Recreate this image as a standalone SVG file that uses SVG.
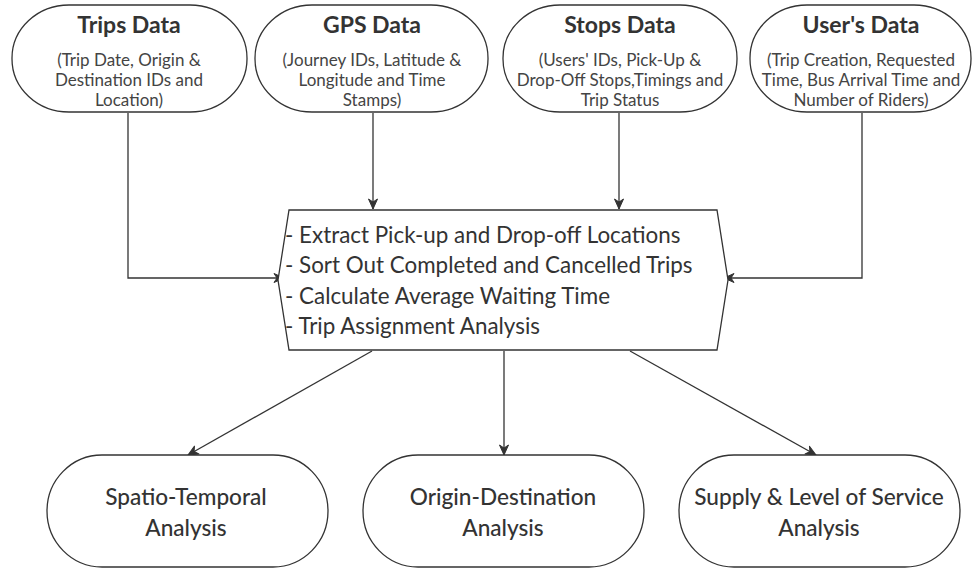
<svg xmlns="http://www.w3.org/2000/svg" width="976" height="569" viewBox="0 0 976 569">
<defs>
<marker id="ah" viewBox="0 0 12 12" refX="11" refY="6" markerWidth="12" markerHeight="12" markerUnits="userSpaceOnUse" orient="auto">
<path d="M1,1.5 L11,6 L1,10.5 L4,6 Z" fill="#333" stroke="#333" stroke-width="1" stroke-linejoin="round"/>
</marker>
<style>
.shape{fill:#fff;stroke:#333;stroke-width:1.3}
.conn{fill:none;stroke:#333;stroke-width:1.3;marker-end:url(#ah)}
.title{font-family:Lato,"Liberation Sans",sans-serif;font-weight:700;font-size:23px;fill:#333;text-anchor:middle}
.sub{font-family:Lato,"Liberation Sans",sans-serif;font-size:17px;fill:#444;text-anchor:middle}
.main{font-family:Lato,"Liberation Sans",sans-serif;font-size:22.4px;fill:#333}
.out{font-family:Lato,"Liberation Sans",sans-serif;font-weight:500;font-size:22.6px;fill:#333;text-anchor:middle}
</style>
</defs>
<rect width="976" height="569" fill="#fff"/>
<g id="connectors">
<polyline class="conn" points="128,113 128,278 284,278"/>
<line class="conn" x1="373" y1="113" x2="373" y2="209"/>
<line class="conn" x1="619" y1="113" x2="619" y2="209"/>
<polyline class="conn" points="862,113 862,278 724,278"/>
<line class="conn" x1="372" y1="351" x2="188" y2="455"/>
<line class="conn" x1="504" y1="351" x2="504" y2="455"/>
<line class="conn" x1="630" y1="351" x2="816" y2="455"/>
</g>
<g id="trips">
<rect class="shape" x="12" y="5" width="235" height="107" rx="57" ry="53"/>
<text class="title" x="129" y="33">Trips Data</text>
<text class="sub" x="129" y="66">(Trip Date, Origin &amp;</text>
<text class="sub" x="129" y="86">Destination IDs and</text>
<text class="sub" x="129" y="106">Location)</text>
</g>
<g id="gps">
<rect class="shape" x="255" y="5" width="233" height="107" rx="57" ry="53"/>
<text class="title" x="372" y="33">GPS Data</text>
<text class="sub" x="372" y="66">(Journey IDs, Latitude &amp;</text>
<text class="sub" x="372" y="86">Longitude and Time</text>
<text class="sub" x="372" y="106">Stamps)</text>
</g>
<g id="stops">
<rect class="shape" x="503" y="5" width="234" height="107" rx="57" ry="53"/>
<text class="title" x="620" y="33">Stops Data</text>
<text class="sub" x="620" y="66">(Users' IDs, Pick-Up &amp;</text>
<text class="sub" x="620" y="86">Drop-Off Stops,Timings and</text>
<text class="sub" x="620" y="106">Trip Status</text>
</g>
<g id="users">
<rect class="shape" x="750" y="5" width="221" height="107" rx="57" ry="53"/>
<text class="title" x="861" y="33">User's Data</text>
<text class="sub" x="861" y="66">(Trip Creation, Requested</text>
<text class="sub" x="861" y="86">Time, Bus Arrival Time and</text>
<text class="sub" x="861" y="106">Number of Riders)</text>
</g>
<g id="process">
<polygon class="shape" points="289,210 717,210 728,280 717,350 289,350 278,280"/>
<text class="main" x="285" y="243">- Extract Pick-up and Drop-off Locations</text>
<text class="main" x="285" y="273">- Sort Out Completed and Cancelled Trips</text>
<text class="main" x="285" y="304">- Calculate Average Waiting Time</text>
<text class="main" x="285" y="334">- Trip Assignment Analysis</text>
</g>
<g id="spatio">
<rect class="shape" x="47" y="455" width="281" height="112" rx="55" ry="56"/>
<text class="out" x="186" y="505">Spatio-Temporal</text>
<text class="out" x="186" y="536">Analysis</text>
</g>
<g id="od">
<rect class="shape" x="363" y="455" width="281" height="112" rx="55" ry="56"/>
<text class="out" x="503" y="505">Origin-Destination</text>
<text class="out" x="503" y="536">Analysis</text>
</g>
<g id="supply">
<rect class="shape" x="679" y="455" width="281" height="112" rx="55" ry="56"/>
<text class="out" x="819" y="505">Supply &amp; Level of Service</text>
<text class="out" x="819" y="536">Analysis</text>
</g>
</svg>
